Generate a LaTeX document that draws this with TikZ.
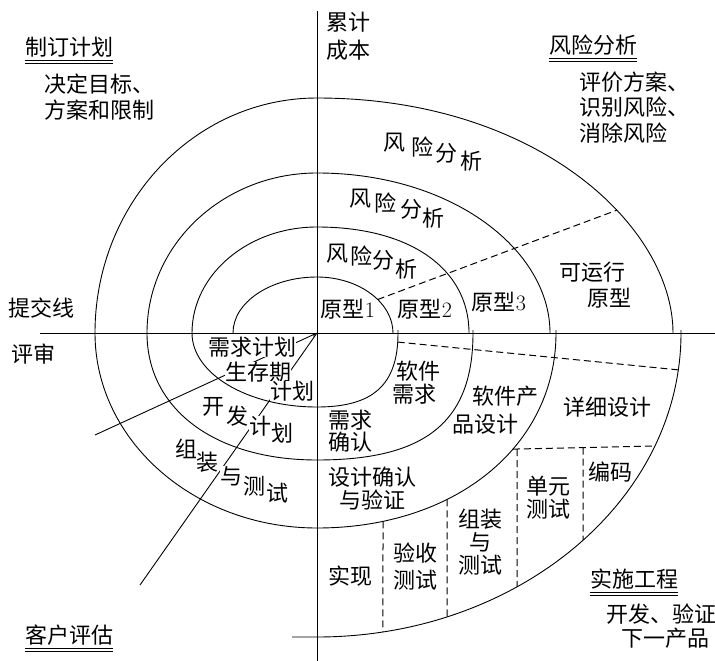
\documentclass[tikz,border=0pt]{standalone}
\usepackage{fontspec}
\newfontfamily\cjk{Noto Sans CJK SC}
\usetikzlibrary{arrows.meta,intersections}
\begin{document}
\begin{tikzpicture}[x=1pt,y=-1pt,
  lbl/.style={font=\cjk\fontsize{22pt}{26pt}\selectfont, inner sep=0pt},
  wlbl/.style={lbl, fill=white},
  curve/.style={line width=0.9pt},
  axisline/.style={line width=0.9pt},
  dsh/.style={line width=1pt, dash pattern=on 7pt off 4pt},
  uline/.style={line width=0.9pt}]
\useasboundingbox (0,0) rectangle (715,661);
\fill[white] (0,0) rectangle (715,661);

% axes
\coordinate (vt) at (317,11);
\coordinate (vb) at (317,661);
\coordinate (hl) at (40,333);
\coordinate (hr) at (715,333);
\coordinate (c) at (317,333);
\draw[axisline] (vt) -- (vb);
\draw[axisline] (hl) -- (hr);

% spiral
\draw[curve] (233,333) .. controls (233,302) and (271,277) .. (317,277);
\draw[curve, name path=ur1] (317,277) .. controls (359,277) and (393,302.6) .. (393,333);
\draw[curve, name path=lr1] (398,330) -- (398,333) .. controls (398,385) and (373,407) .. (317,407);
\draw[curve] (317,407) .. controls (248,407) and (192,374) .. (192,333);
\draw[curve] (192,333) .. controls (192,274.5) and (248,227) .. (317,227);
\draw[curve] (317,227) .. controls (411,227) and (469,269.4) .. (469,333);
\draw[curve] (473,330) -- (473,333) .. controls (473,422) and (425.5,460) .. (317,460);
\draw[curve] (317,460) .. controls (215,460) and (147,409.2) .. (147,333);
\draw[curve] (147,333) .. controls (147,244.6) and (223,173) .. (317,173);
\draw[curve] (317,173) .. controls (452,173) and (550,249.8) .. (550,333);
\draw[curve, name path=lr3] (556,330) -- (556,333) .. controls (556,446) and (455.6,528) .. (317,528);
\draw[curve] (317,528) .. controls (194.4,528) and (95,440.7) .. (95,333);
\draw[curve] (95,333) .. controls (95,203.2) and (194.4,98) .. (317,98);
\draw[curve, name path=ur4] (317,98) .. controls (538,98) and (673,227) .. (673,333);
\draw[curve, name path=lr4] (681,330) -- (681,333) .. controls (681,500.8) and (517.4,637) .. (317,637) -- (292,637);

% dashed helper paths
\path[name path=d1] (340,313.6) -- (700,179.1);
\path[name path=d2] (380,340.3) -- (720,374);
\path[name path=d3] (480,449.8) -- (720,444.6);
\path[name path=v1] (383,470) -- (383,700);
\path[name path=v2] (447,470) -- (447,700);
\path[name path=v3] (517,420) -- (517,700);
\path[name path=v4] (583,420) -- (583,700);
\path[name intersections={of=d1 and ur1, by={d1a}}];
\path[name intersections={of=d1 and ur4, by={d1b}}];
\path[name intersections={of=d2 and lr1, by={d2a}}];
\path[name intersections={of=d2 and lr4, by={d2b}}];
\path[name intersections={of=d3 and lr3, by={d3a}}];
\path[name intersections={of=d3 and lr4, by={d3b}}];
\path[name intersections={of=v1 and lr3, by={v1a}}];
\path[name intersections={of=v1 and lr4, by={v1b}}];
\path[name intersections={of=v2 and lr3, by={v2a}}];
\path[name intersections={of=v2 and lr4, by={v2b}}];
\path[name intersections={of=v3 and d3, by={v3a}}];
\path[name intersections={of=v3 and lr4, by={v3b}}];
\path[name intersections={of=v4 and d3, by={v4a}}];
\path[name intersections={of=v4 and lr4, by={v4b}}];
\draw[dsh] (d1a) -- (d1b);
\draw[dsh] (d2a) -- (d2b);
\draw[dsh] (d3a) -- (d3b);
\draw[dsh] (v1a) -- (v1b);
\draw[dsh] (v2a) -- (v2b);
\draw[dsh] (v3a) -- (v3b);
\draw[dsh] (v4a) -- (v4b);

% radial lines
\coordinate (r1) at (95,435);
\coordinate (r2) at (140,585);
\draw[curve, -{Stealth[length=5pt,width=3.5pt]}] (r1) -- (c);
\draw[curve] (r2) -- (c);

% quadrant headings
\node[lbl] (h1) at (69,47) {制订计划};
\draw[uline] ([yshift=-3pt]h1.south west) -- ([yshift=-3pt]h1.south east);
\draw[uline] ([yshift=-6pt]h1.south west) -- ([yshift=-6pt]h1.south east);
\node[lbl, anchor=west] (h1a) at (44,84) {决定目标、};
\node[lbl, anchor=west] (h1b) at (44,110) {方案和限制};

\node[lbl] (h2) at (593,45) {风险分析};
\draw[uline] ([yshift=-3pt]h2.south west) -- ([yshift=-3pt]h2.south east);
\draw[uline] ([yshift=-6pt]h2.south west) -- ([yshift=-6pt]h2.south east);
\node[lbl, anchor=west] (h2a) at (579,82) {评价方案、};
\node[lbl, anchor=west] (h2b) at (579,107) {识别风险、};
\node[lbl, anchor=west] (h2c) at (579,133) {消除风险};

\node[lbl] (h3) at (634,579) {实施工程};
\draw[uline] ([yshift=-3pt]h3.south west) -- ([yshift=-3pt]h3.south east);
\draw[uline] ([yshift=-6pt]h3.south west) -- ([yshift=-6pt]h3.south east);
\node[lbl] (h3a) at (661,614) {开发、验证};
\node[lbl] (h3b) at (665,638) {下一产品};

\node[lbl] (h4) at (69,635) {客户评估};
\draw[uline] ([yshift=-3pt]h4.south west) -- ([yshift=-3pt]h4.south east);
\draw[uline] ([yshift=-6pt]h4.south west) -- ([yshift=-6pt]h4.south east);

\node[lbl] (lj1) at (348,22) {累计};
\node[lbl] (lj2) at (348,50) {成本};
\node[lbl] (tj) at (42,308) {提交线};
\node[lbl] (ps) at (33,354) {评审};

% risk analysis labels (staggered)
\node[lbl] (fa1) at (394,143) {风};
\node[lbl] (fa2) at (422,147) {险};
\node[lbl] (fa3) at (446,153) {分};
\node[lbl] (fa4) at (471,161) {析};
\node[lbl] (fb1) at (360,199) {风};
\node[lbl] (fb2) at (385,203) {险};
\node[lbl] (fb3) at (411,209) {分};
\node[lbl] (fb4) at (433,218) {析};
\node[lbl] (fc1) at (337,254) {风};
\node[lbl] (fc2) at (361,256) {险};
\node[lbl] (fc3) at (383,260) {分};
\node[lbl] (fc4) at (406,269) {析};

% prototypes
\node[lbl] (p1) at (348,309) {原型{\rmfamily 1}};
\node[lbl] (p2) at (425,309) {原型{\rmfamily 2}};
\node[lbl] (p3) at (499,302) {原型{\rmfamily 3}};
\node[lbl] (p4a) at (592,272) {可运行};
\node[lbl] (p4b) at (609,298) {原型};

% planning (lower left)
\node[wlbl] (q1) at (252,347) {需求计划};
\node[wlbl] (q2) at (258,372) {生存期};
\node[wlbl] (q3) at (292,391) {计划};
\node[wlbl] (kf1) at (213,407) {开};
\node[wlbl] (kf2) at (237,416) {发};
\node[wlbl] (kf3) at (260,426) {计};
\node[wlbl] (kf4) at (282,433) {划};
\node[wlbl] (zz1) at (186,449) {组};
\node[wlbl] (zz2) at (207,462) {装};
\node[wlbl] (zz3) at (231,476) {与};
\node[wlbl] (zz4) at (254,486) {测};
\node[wlbl] (zz5) at (277,493) {试};

% engineering (lower right)
\node[lbl] (s1a) at (418,371) {软件};
\node[lbl] (s1b) at (414,394) {需求};
\node[lbl] (s2a) at (350,420) {需求};
\node[lbl] (s2b) at (350,442) {确认};
\node[lbl] (s3a) at (505,396) {软件产};
\node[lbl] (s3b) at (485,424) {品设计};
\node[lbl] (s4a) at (372,477) {设计确认};
\node[lbl] (s4b) at (372,500) {与验证};
\node[lbl] (s5) at (607,407) {详细设计};
\node[lbl] (s6) at (610,472) {编码};
\node[lbl] (s7a) at (548,486) {单元};
\node[lbl] (s7b) at (548,509) {测试};
\node[lbl] (s8a) at (480,519) {组装};
\node[lbl] (s8b) at (480,542) {与};
\node[lbl] (s8c) at (480,565) {测试};
\node[lbl] (s9a) at (415,553) {验收};
\node[lbl] (s9b) at (415,580) {测试};
\node[lbl] (s10) at (350,576) {实现};
\end{tikzpicture}
\end{document}
